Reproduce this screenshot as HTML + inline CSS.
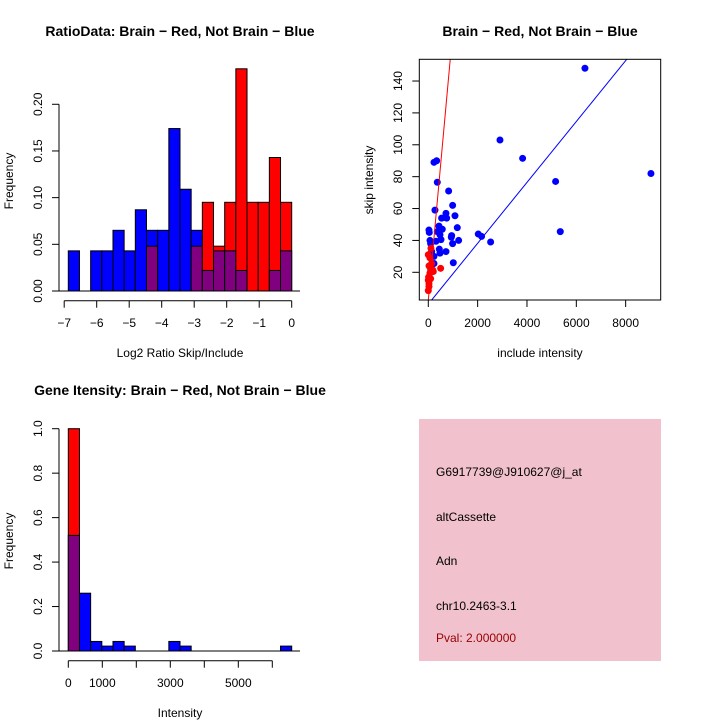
<!DOCTYPE html>
<html><head><meta charset="utf-8"><style>
body{margin:0;background:#fff}
svg{display:block;font-family:"Liberation Sans",sans-serif}
</style></head><body>
<svg id="c" width="720" height="720" xmlns="http://www.w3.org/2000/svg">
<rect width="720" height="720" fill="#fff"/>
<g id="p1"></g>
<g id="p2"></g>
<g id="p3"></g>
<g id="p4">
<rect x="419" y="419" width="242" height="242" fill="#f1c2cd"/>
<text x="436" y="476" font-size="12">G6917739@J910627@j_at</text>
<text x="436" y="521" font-size="12">altCassette</text>
<text x="436" y="565" font-size="12">Adn</text>
<text x="436" y="610" font-size="12">chr10.2463-3.1</text>
<text x="436" y="642" font-size="12" fill="#990000">Pval: 2.000000</text>
</g>
</svg>
<script>
// ---- Panel 1 data
const ratioBlue=[0.043,0,0.043,0.043,0.065,0.043,0.087,0.065,0.065,0.174,0.109,0.065,0.022,0.043,0.043,0.022,0,0,0.022,0.043];
const ratioRed=[0,0,0,0,0,0,0,0.048,0,0,0,0.048,0.095,0.048,0.095,0.238,0.095,0.095,0.143,0.095];
const ratioYTicks=[0,0.05,0.10,0.15,0.20];
const ratioYLabels=["0.00","0.05","0.10","0.15","0.20"];
const ratioXTicks=[-7,-6,-5,-4,-3,-2,-1,0];
// ---- Panel 2 data
const blueX=[6350,2905,3823,5160,9025,5350,2526,2026,2160,230,338,365,824,986,270,716,743,540,1081,1175,27,40,432,567,365,473,946,986,1230,932,68,95,311,513,446,473,716,1013,230,135,68,230,135];
const blueY=[148,103,91.5,77,82,45.5,39,44,42.5,89,90,76.5,71,62,59,57,54,54,55.5,48,46.5,45,49,47,45.5,43.5,43,38,40,42,40,38,39.5,40.5,34.5,32,33,26,30,33,23.5,25.5,21.5];
const redX=[0,27,40,13,68,95,27,135,0,68,108,176,95,500,203,27,0];
const redY=[8.5,13,15,17,19.5,21.5,24,25.5,31,29,35,21.5,16,22.5,20.5,11,15];
const redLine=[2.5,0.17];   // intercept, slope
const blueLine=[0,0.0191];
const scXTicks=[0,2000,4000,6000,8000];
const scYTicks=[20,40,60,80,100,120,140];
// ---- Panel 3 data
const intBlue=[0.52,0.26,0.043,0.022,0.043,0.022,0,0,0,0.043,0.022,0,0,0,0,0,0,0,0,0.022];
const intRed=[1.0,0,0,0,0,0,0,0,0,0,0,0,0,0,0,0,0,0,0,0];
const intYTicks=[0,0.2,0.4,0.6,0.8,1.0];
const intYLabels=["0.0","0.2","0.4","0.6","0.8","1.0"];
const intXTicks=[0,1000,2000,3000,4000,5000,6000];
const intXLabels=["0","1000","","3000","","5000",""];

const NS="http://www.w3.org/2000/svg";
function mk(parent,tag,attrs,text){const e=document.createElementNS(NS,tag);for(const k in attrs)e.setAttribute(k,attrs[k]);if(text!==undefined)e.textContent=text;parent.appendChild(e);return e;}

function histogram(g,blue,red,x0,bw,base,yscale,yTicks,yLabels,axisX,xTickPos,xLabels,axisY,lblY,xTitle,xTitleY,title,titleX,titleY){
  const y=v=>base-v*yscale;
  for(let i=0;i<blue.length;i++){
    const b=blue[i],r=red[i],lo=Math.min(b,r),hi=Math.max(b,r);
    const bx=x0+i*bw;
    if(hi>0){
      const e=mk(g,'rect',{x:bx,y:y(hi),width:bw,height:y(0)-y(hi),fill:b>=r?'#0000ff':'#ff0000',stroke:'#000','stroke-width':1});
      
      
    }
    if(lo>0){
      const e=mk(g,'rect',{x:bx,y:y(lo),width:bw,height:y(0)-y(lo),fill:'#800080',stroke:'#000','stroke-width':1});
      
      
    }
  }
  const bl=mk(g,'line',{x1:59,y1:base,x2:300,y2:base,stroke:'#000','stroke-width':1});
  
  
  const ya=mk(g,'line',{x1:59,y1:y(yTicks[0]),x2:59,y2:y(yTicks[yTicks.length-1]),stroke:'#000'});
  
  
  yTicks.forEach((t,i)=>{
    mk(g,'line',{x1:52,y1:y(t),x2:59,y2:y(t),stroke:'#000'});
    const tx=mk(g,'text',{x:42,y:y(t),'font-size':12,'text-anchor':'middle',transform:`rotate(-90 42 ${y(t)})`},yLabels[i]);
    
    
  });
  const xa=mk(g,'line',{x1:xTickPos[0],y1:axisY,x2:xTickPos[xTickPos.length-1],y2:axisY,stroke:'#000'});
  
  
  xTickPos.forEach((px,i)=>{
    mk(g,'line',{x1:px,y1:axisY,x2:px,y2:axisY+7,stroke:'#000'});
    const tx=mk(g,'text',{x:px,y:lblY,'font-size':12,'text-anchor':'middle'},xLabels[i]);
    
    
  });
  const xt=mk(g,'text',{x:180,y:xTitleY,'font-size':12,'text-anchor':'middle'},xTitle);
  
  
  const yt=mk(g,'text',{x:13,y:base-110,'font-size':12,'text-anchor':'middle',transform:`rotate(-90 13 ${base-110})`},'Frequency');
  
  
  const tt=mk(g,'text',{x:titleX,y:titleY,'font-size':14,'font-weight':'bold','text-anchor':'middle'},title);
  
  
}

// Panel 1
const rx=v=>291.7+v*32.5;
histogram(document.getElementById('p1'),ratioBlue,ratioRed,68.3,11.17,291,933.6,ratioYTicks,ratioYLabels,59,ratioXTicks.map(rx),ratioXTicks.map(t=>t===0?'0':'\u2212'+(-t)),300.7,327,'Log2 Ratio Skip/Include',357,'RatioData: Brain \u2212 Red, Not Brain \u2212 Blue',180,36);

// Panel 3
const ix=v=>68.3+v*0.034;
histogram(document.getElementById('p3'),intBlue,intRed,68.3,11.17,651,222.3,intYTicks,intYLabels,59,intXTicks.map(ix),intXLabels,660.7,687,'Intensity',717,'Gene Itensity: Brain \u2212 Red, Not Brain \u2212 Blue',180,395);

// Panel 2
(function(){
  const g=document.getElementById('p2');
  const L=419.3,R=660.7,T=59.3,B=300;
  const sx=v=>428.3+v*0.02467;
  const sy=v=>272.3-(v-20)*1.594;
  const yMin=(272.3-B)/1.594+20, yMax=(272.3-T)/1.594+20;
  const defs=mk(g,'clipPath',{id:'clip'});
  mk(defs,'rect',{x:L,y:T,width:R-L,height:B-T});
  const pg=mk(g,'g',{'clip-path':'url(#clip)'});
  function ln(par,col,nm){
    const x1=(yMin-par[0])/par[1],x2=(yMax-par[0])/par[1];
    const e=mk(pg,'line',{x1:sx(x1),y1:sy(yMin),x2:sx(x2),y2:sy(yMax),stroke:col,'stroke-width':1});
    
    
  }
  blueX.forEach((v,i)=>{
    const c=mk(pg,'circle',{cx:sx(v),cy:sy(blueY[i]),r:3.5,fill:'#0000ff'});
    
    
  });
  redX.forEach((v,i)=>{
    const c=mk(pg,'circle',{cx:sx(v),cy:sy(redY[i]),r:3.5,fill:'#ff0000'});
    
    
  });
  ln(redLine,'#ff0000','fit-line-red');
  ln(blueLine,'#0000ff','fit-line-blue');
  const fr=mk(g,'rect',{x:L,y:T,width:R-L,height:B-T,fill:'none',stroke:'#000'});
  
  
  scXTicks.forEach(t=>{
    mk(g,'line',{x1:sx(t),y1:B,x2:sx(t),y2:B+7,stroke:'#000'});
    const tx=mk(g,'text',{x:sx(t),y:327,'font-size':12,'text-anchor':'middle'},String(t));
    
    
  });
  scYTicks.forEach(t=>{
    mk(g,'line',{x1:L-7,y1:sy(t),x2:L,y2:sy(t),stroke:'#000'});
    const tx=mk(g,'text',{x:402,y:sy(t),'font-size':12,'text-anchor':'middle',transform:`rotate(-90 402 ${sy(t)})`},String(t));
    
    
  });
  const xt=mk(g,'text',{x:540,y:357,'font-size':12,'text-anchor':'middle'},'include intensity');
  
  
  const yt=mk(g,'text',{x:373,y:180,'font-size':12,'text-anchor':'middle',transform:'rotate(-90 373 180)'},'skip intensity');
  
  
  const tt=mk(g,'text',{x:540,y:36,'font-size':14,'font-weight':'bold','text-anchor':'middle'},'Brain \u2212 Red, Not Brain \u2212 Blue');
  
  
})();
</script>
</body></html>
